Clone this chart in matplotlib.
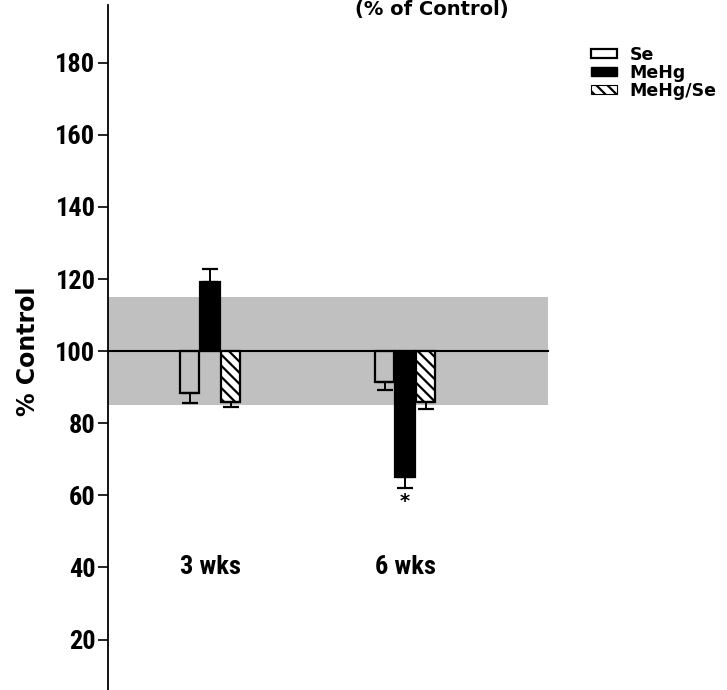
import numpy as np
import matplotlib
matplotlib.use("Agg")
import matplotlib.pyplot as plt
from matplotlib.patches import Patch
from matplotlib import font_manager

names = {f.name for f in font_manager.fontManager.ttflist}
narrow = [n for n in ['Liberation Sans Narrow', 'Roboto Condensed', 'Open Sans Condensed',
                      'Liberation Sans'] if n in names][:1]
plt.rcParams['font.family'] = narrow + ['DejaVu Sans']
plt.rcParams['font.weight'] = 'bold'
plt.rcParams['hatch.linewidth'] = 1.6
wide = ['DejaVu Sans']

groups = ["3 wks", "6 wks"]
series = ["Se", "MeHg", "MeHg/Se"]
# % of control, one value per group for each series
se_vals = [88.5, 91.3]
mehg_vals = [119.2, 65.0]
mehgse_vals = [86.0, 86.0]
se_err = [3.0, 2.2]
mehg_err = [3.6, 3.0]
mehgse_err = [1.4, 2.0]
control_band = (85, 115)
yticks = [20, 40, 60, 80, 100, 120, 140, 160, 180]

values = [se_vals, mehg_vals, mehgse_vals]
errors = [se_err, mehg_err, mehgse_err]

fig = plt.figure(figsize=(7.27, 6.9), dpi=100)
ax = fig.add_axes([108 / 727, 0.0, 1 - 108 / 727, 1 - 5 / 690])

x = np.arange(1, len(groups) + 1)
width = 0.1
offsets = [-0.105, 0.0, 0.105]

# control range band and 100% line
ax.axhspan(control_band[0], control_band[1], xmin=0, xmax=(2.73 - 0.477) / (3.65 - 0.477),
           color='#c0c0c0', lw=0, zorder=0)
ax.plot([0.477, 2.73], [100, 100], color='black', lw=1.5, zorder=3)

styles = [dict(fill=False, edgecolor='black'),
          dict(facecolor='black', edgecolor='black'),
          dict(facecolor='white', edgecolor='black', hatch='\\\\\\')]

for vals, errs, off, st in zip(values, errors, offsets, styles):
    vals = np.array(vals)
    heights = vals - 100
    ax.bar(x + off, heights, width, bottom=100, linewidth=1.6, zorder=2, **st)
    lower = np.where(heights < 0, errs, 0)
    upper = np.where(heights > 0, errs, 0)
    ax.errorbar(x + off, vals, yerr=[lower, upper], fmt='none', ecolor='black',
                elinewidth=1.4, capsize=6, capthick=1.6, zorder=2)

# significance marker
ax.text(x[1] + offsets[1], mehg_vals[1] - mehg_err[1] - 1.0, "*", ha='center', va='top',
        fontsize=14, fontweight='bold', family=wide)

for xi, g in zip(x, groups):
    ax.text(xi, 40, g, ha='center', va='center', fontsize=19, fontweight='bold')

ax.set_xlim(0.477, 3.65)
ax.set_ylim(6, 196)
ax.set_yticks(yticks)
ax.set_yticklabels([str(t) for t in yticks], fontsize=19, fontweight='bold')
ax.tick_params(axis='y', direction='out', length=7, width=1.2, pad=2)
ax.set_xticks([])
for s in ['top', 'right', 'bottom']:
    ax.spines[s].set_visible(False)
ax.spines['left'].set_linewidth(1.3)

fig.text(28 / 727, 1 - 351 / 690, "% Control", rotation=90, ha='center', va='center',
         fontsize=17, fontweight='bold', family=wide)
fig.text(432 / 727, 1.0, "(% of Control)", ha='center', va='top',
         fontsize=14, fontweight='bold', family=wide)

handles = [Patch(fill=False, edgecolor='black', lw=1.6),
           Patch(facecolor='black', edgecolor='black'),
           Patch(facecolor='white', edgecolor='black', hatch='\\\\\\', lw=0.8)]
fig.legend(handles, series, loc='upper left', bbox_to_anchor=(582 / 727, 1 - 37 / 690),
           frameon=False, handlelength=1.5, handleheight=0.5,
           handletextpad=0.75, labelspacing=0.0, borderpad=0,
           prop={'weight': 'heavy', 'size': 12.5, 'family': wide})

fig.savefig("out.png", dpi=100)
